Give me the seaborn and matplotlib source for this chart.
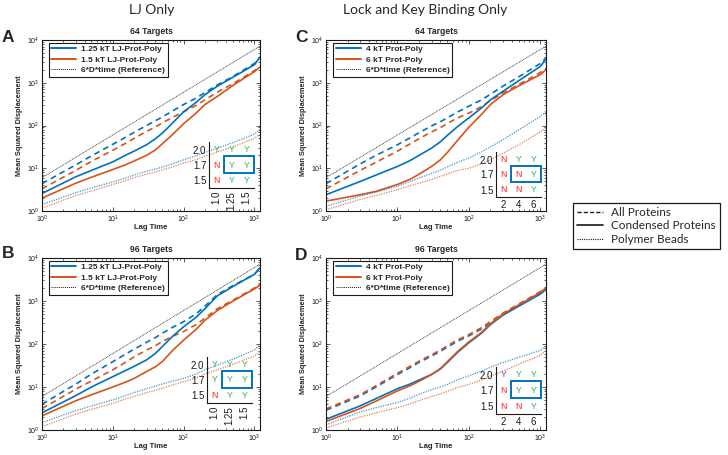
import matplotlib
matplotlib.use("Agg")
import matplotlib.pyplot as plt
import seaborn as sns
import pandas as pd
from matplotlib.lines import Line2D
from matplotlib.patches import Rectangle

lag_time = [1, 3, 5, 10, 15, 20, 30, 40, 50, 70, 100, 150, 200, 300, 500, 1000, 1200]
reference = [6, 18, 30, 60, 90, 120, 180, 240, 300, 420, 600, 900, 1200, 1800, 3000,
             6000, 7200]   # 6*D*time

# A: LJ only, 64 targets (low = 1.25 kT, high = 1.5 kT)
a_all_low = [4.37, 12.0, 19.5, 36.3, 52.5, 69.2, 100, 129, 158, 219, 309, 437, 589, 891,
             1410, 2820, 3980]
a_cond_low = [2.57, 6.31, 8.91, 14.1, 20.0, 25.1, 35.5, 49.0, 66.1, 115, 209, 347, 525,
              832, 1350, 2630, 3980]
a_bead_low = [1.41, 2.69, 3.47, 4.79, 5.89, 6.92, 8.51, 9.55, 10.7, 12.6, 15.8, 19.5,
              23.4, 29.5, 39.8, 63.1, 79.4]
a_all_high = [3.31, 8.91, 14.5, 26.3, 38.0, 50.1, 72.4, 93.3, 115, 155, 209, 295, 398,
              603, 955, 1910, 2400]
a_cond_high = [2.0, 4.47, 6.17, 9.33, 12.0, 14.8, 20.0, 26.9, 37.2, 61.7, 110, 195, 309,
               479, 871, 1820, 2340]
a_bead_high = [1.17, 2.29, 2.95, 4.17, 5.13, 6.03, 7.24, 8.13, 9.12, 10.7, 13.2, 15.8,
               19.1, 24.0, 31.6, 50.1, 61.7]

# B: LJ only, 96 targets
b_all_low = [3.98, 11.7, 20.0, 38.9, 57.5, 75.9, 110, 141, 178, 245, 331, 501, 759, 1410,
             2290, 4170, 6030]
b_cond_low = [2.51, 6.31, 10.0, 17.4, 24.0, 30.2, 42.7, 60.3, 87.1, 151, 251, 417, 661,
              1320, 2190, 4170, 5890]
b_bead_low = [1.48, 2.82, 3.63, 5.01, 6.31, 7.41, 9.12, 10.5, 11.7, 13.8, 15.8, 20.0,
              25.1, 32.4, 44.7, 72.4, 95.5]
b_all_high = [3.16, 8.91, 13.8, 25.1, 37.2, 50.1, 72.4, 91.2, 115, 151, 195, 282, 398,
              661, 1050, 2000, 2570]
b_cond_high = [2.14, 4.79, 6.61, 10.0, 12.9, 15.8, 22.9, 29.5, 38.9, 70.8, 123, 219, 355,
               603, 1000, 1910, 2340]
b_bead_high = [1.2, 2.34, 3.02, 4.17, 5.25, 6.03, 7.41, 8.32, 9.33, 11.2, 13.2, 16.2,
               20.0, 25.1, 33.9, 52.5, 66.1]

# C: lock and key, 64 targets (low = 4 kT, high = 6 kT)
c_all_low = [4.37, 12.6, 20.0, 35.5, 51.3, 67.6, 97.7, 123, 151, 209, 282, 398, 537, 832,
             1380, 2820, 3800]
c_cond_low = [2.40, 4.90, 6.92, 11.0, 15.1, 20.0, 29.5, 41.7, 58.9, 95.5, 151, 257, 398,
              631, 1120, 2400, 3630]
c_bead_low = [1.29, 2.24, 2.75, 3.80, 4.90, 5.89, 7.59, 9.12, 10.7, 13.8, 17.4, 24.0,
              31.6, 46.8, 79.4, 162, 214]
c_all_high = [3.31, 8.91, 13.8, 25.1, 37.2, 49.0, 70.8, 89.1, 112, 151, 195, 275, 380,
              575, 912, 1740, 2190]
c_cond_high = [1.70, 2.40, 2.88, 4.17, 5.50, 7.24, 11.0, 15.8, 23.4, 45.7, 91.2, 182, 309,
               525, 851, 1550, 2040]
c_bead_high = [1.07, 1.86, 2.29, 3.16, 3.89, 4.47, 5.50, 6.46, 7.41, 8.91, 10.0, 12.6,
               15.8, 22.4, 35.5, 70.8, 87.1]

# D: lock and key, 96 targets
d_all_low = [2.88, 6.17, 10.0, 19.5, 28.2, 37.2, 52.5, 67.6, 85.1, 117, 155, 224, 309,
             490, 794, 1550, 1950]
d_cond_low = [1.78, 3.63, 5.37, 9.12, 11.7, 14.5, 19.5, 26.3, 37.2, 64.6, 107, 178, 282,
              468, 759, 1450, 1860]
d_bead_low = [1.32, 2.63, 3.31, 4.37, 5.50, 6.76, 8.71, 10.0, 11.5, 14.8, 18.2, 23.4,
              28.8, 37.2, 49.0, 70.8, 89.1]
d_all_high = [3.09, 6.61, 10.7, 20.9, 30.2, 39.8, 56.2, 72.4, 91.2, 126, 166, 240, 331,
              525, 851, 1660, 2090]
d_cond_high = [1.58, 3.16, 4.68, 8.13, 10.7, 13.5, 19.5, 26.9, 38.9, 67.6, 112, 186, 295,
               501, 813, 1580, 2040]
d_bead_high = [1.12, 2.0, 2.51, 3.31, 4.07, 4.79, 6.03, 6.92, 7.94, 9.77, 11.5, 14.5,
               17.8, 23.4, 33.9, 55.0, 69.2]

lj_labels = ["1.25 kT LJ-Prot-Poly", "1.5 kT LJ-Prot-Poly"]
lk_labels = ["4 kT Prot-Poly", "6 kT Prot-Poly"]

# inset phase tables, rows top to bottom
table_rows = ["2.0", "1.7", "1.5"]
lj_cols = ["1.0", "1.25", "1.5"]
lk_cols = ["2", "4", "6"]
a_grid = ["YYY", "NYY", "NYY"]
b_grid = ["YYY", "YYY", "NYY"]
c_grid = ["NYY", "NNY", "NNY"]
d_grid = ["PYY", "NYY", "NNY"]   # P = purple Y

BLUE = "#0072BD"
ORANGE = "#D95319"
letter_colors = {"Y": "#2CB34A", "N": "#FF1A1A", "P": "#7B3FB5"}

sns.set_theme(style="ticks")
plt.rcParams["font.family"] = ["Liberation Sans", "DejaVu Sans"]
plt.rcParams["mathtext.fontset"] = "custom"
plt.rcParams["mathtext.rm"] = "Liberation Sans"

W, H = 728, 455
fig = plt.figure(figsize=(W / 100, H / 100), dpi=100)


def px_axes(left, top, right, bottom):
    return fig.add_axes([left / W, 1 - bottom / H, (right - left) / W, (bottom - top) / H])


def draw_panel(ax, curves, labels, title):
    rows = []
    for kind, (low, high) in curves.items():
        for lab, vals in zip(labels, (low, high)):
            for t, v in zip(lag_time, vals):
                rows.append({"time": t, "msd": v, "strength": lab, "kind": kind})
    df = pd.DataFrame(rows)
    ax.set_xscale("log")
    ax.set_yscale("log")
    styles = {"all": ((0, (3.5, 2.5)), 1.2, 1.0),
              "cond": ("-", 1.2, 1.0),
              "bead": ((0, (1, 1)), 0.9, 0.75)}
    for kind, (ls, lw, alpha) in styles.items():
        sns.lineplot(data=df[df.kind == kind], x="time", y="msd", hue="strength",
                     palette=[BLUE, ORANGE], hue_order=labels, estimator=None,
                     linestyle=ls, lw=lw, alpha=alpha, legend=False, ax=ax)
    sns.lineplot(x=lag_time, y=reference, color="k", linestyle=(0, (1, 1)), lw=0.6, ax=ax)
    ax.set_xlim(1, 1200)
    ax.set_ylim(1, 1e4)
    ax.tick_params(which="both", direction="in", top=True, right=True,
                   labelsize=5, pad=2, width=0.5, colors="k")
    ax.tick_params(which="major", length=3)
    ax.tick_params(which="minor", length=1.5)
    for s in ax.spines.values():
        s.set_color("k")
        s.set_linewidth(0.8)
    ax.set_title(title, fontsize=6.2, fontweight="bold", pad=4)
    ax.set_xlabel("Lag Time", fontsize=5.5, fontweight="bold")
    ax.set_ylabel("Mean Squared Displacement", fontsize=5.3, fontweight="bold")
    ax.xaxis.set_label_coords(0.5, -0.075)
    ax.yaxis.set_label_coords(-0.085, 0.5)
    handles = [Line2D([], [], color=BLUE, lw=1.4),
               Line2D([], [], color=ORANGE, lw=1.4),
               Line2D([], [], color="k", lw=0.7, linestyle=(0, (1, 1)))]
    leg = ax.legend(handles, labels + ["6*D*time (Reference)"], loc="upper left",
                    bbox_to_anchor=(0.03, 0.985), borderaxespad=0, fancybox=False,
                    framealpha=1, edgecolor="k", prop={"size": 6, "weight": "bold"},
                    handlelength=3.0, handletextpad=0.6, borderpad=0.35, labelspacing=0.3)
    leg.get_frame().set_linewidth(0.8)


def draw_inset(left, top, bottom, grid, cols, rotate):
    iax = px_axes(left, top, left + 45, bottom)
    iax.set_facecolor("none")
    iax.set_xlim(0, 3)
    iax.set_ylim(0, 3)
    for side in ("top", "right"):
        iax.spines[side].set_visible(False)
    for side in ("left", "bottom"):
        iax.spines[side].set_color("k")
        iax.spines[side].set_linewidth(0.8)
    iax.set_yticks([2.5, 1.5, 0.5], table_rows)
    iax.set_xticks([0.5, 1.5, 2.5], cols, rotation=90 if rotate else 0)
    iax.tick_params(length=0, labelsize=7, pad=2, colors="k")
    for r, row in enumerate(grid):
        for c, ch in enumerate(row):
            iax.text(c + 0.5, 2.5 - r, "Y" if ch == "P" else ch, ha="center",
                     va="center", fontsize=6.3, color=letter_colors[ch])
    iax.add_patch(Rectangle((1.0, 1.0), 2.0, 1.1, fill=False, edgecolor=BLUE,
                            lw=1.4, clip_on=False))


ax_a = px_axes(42, 40, 260, 211)
ax_b = px_axes(42, 258, 260, 430)
ax_c = px_axes(326, 40, 546, 211)
ax_d = px_axes(326, 258, 546, 430)

draw_panel(ax_a, {"all": (a_all_low, a_all_high), "cond": (a_cond_low, a_cond_high),
                  "bead": (a_bead_low, a_bead_high)}, lj_labels, "64 Targets")
draw_panel(ax_b, {"all": (b_all_low, b_all_high), "cond": (b_cond_low, b_cond_high),
                  "bead": (b_bead_low, b_bead_high)}, lj_labels, "96 Targets")
draw_panel(ax_c, {"all": (c_all_low, c_all_high), "cond": (c_cond_low, c_cond_high),
                  "bead": (c_bead_low, c_bead_high)}, lk_labels, "64 Targets")
draw_panel(ax_d, {"all": (d_all_low, d_all_high), "cond": (d_cond_low, d_cond_high),
                  "bead": (d_bead_low, d_bead_high)}, lk_labels, "96 Targets")

draw_inset(209, 142, 188, a_grid, lj_cols, True)
draw_inset(207, 357, 403, b_grid, lj_cols, True)
draw_inset(496, 152, 197, c_grid, lk_cols, False)
draw_inset(496, 367, 414, d_grid, lk_cols, False)

# column headers and panel letters
fig.text(152 / W, 1 - 10 / H, "LJ Only", ha="center", va="center", fontsize=10,
         family=["Lato", "DejaVu Sans"])
fig.text(425 / W, 1 - 10 / H, "Lock and Key Binding Only", ha="center", va="center",
         fontsize=10, family=["Lato", "DejaVu Sans"])
for letter, x, y in [("A", 8, 37), ("B", 8, 254), ("C", 301, 38), ("D", 301, 255)]:
    fig.text(x / W, 1 - y / H, letter, ha="center", va="center", fontsize=12.5,
             fontweight="bold")

key = [Line2D([], [], color="k", lw=1.0, linestyle=(0, (3, 1.5))),
       Line2D([], [], color="k", lw=1.2),
       Line2D([], [], color="k", lw=0.8, linestyle=(0, (1, 1)))]
fleg = fig.legend(key, ["All Proteins", "Condensed Proteins", "Polymer Beads"],
                  loc="upper left", bbox_to_anchor=(573 / W, 1 - 203 / H),
                  borderaxespad=0, fancybox=False, framealpha=1, edgecolor="k",
                  prop={"family": "Lato", "size": 8.5}, handlelength=2.2,
                  handletextpad=0.7, borderpad=0.35, labelspacing=0.2)
fleg.get_frame().set_linewidth(0.9)

fig.savefig("out.png", dpi=100)
